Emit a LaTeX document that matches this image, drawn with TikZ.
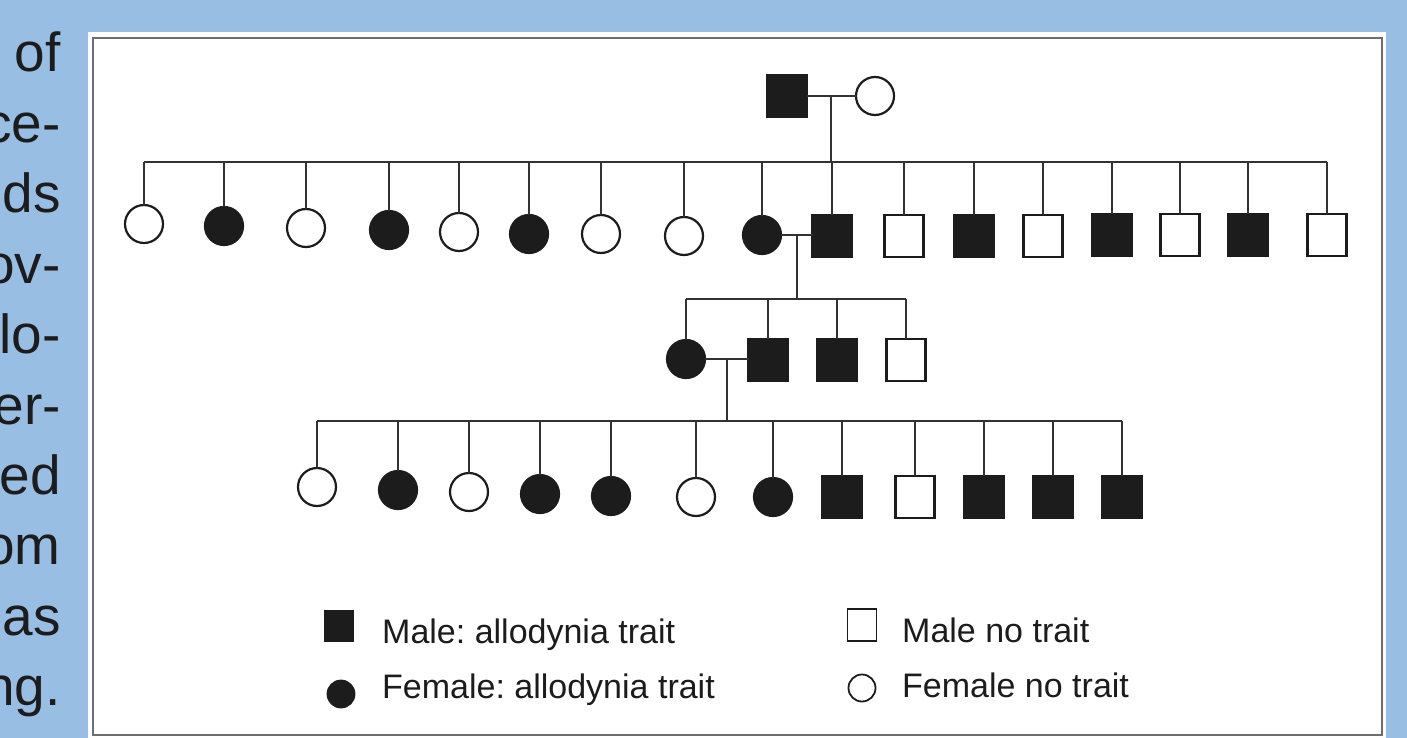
\documentclass[tikz,border=0pt]{standalone}
\usepackage{fontspec}
\setmainfont{Liberation Sans}
\usetikzlibrary{calc}
\definecolor{bgblue}{RGB}{153,190,228}
\definecolor{ink}{RGB}{28,28,28}
\definecolor{lineink}{RGB}{50,50,50}
\definecolor{frame}{RGB}{110,110,110}
\frenchspacing
\begin{document}
\begin{tikzpicture}[x=1pt,y=-1pt,
  sym/.style={draw=ink, line width=2.2pt, inner sep=0pt, outer sep=0pt},
  mA/.style={sym, rectangle, minimum width=39pt, minimum height=42pt, fill=ink},
  mU/.style={sym, rectangle, minimum width=39pt, minimum height=42pt, fill=white},
  fA/.style={sym, circle, minimum size=38pt, fill=ink},
  fU/.style={sym, circle, minimum size=38pt, fill=white},
  lnk/.style={draw=lineink, line width=2pt},
  lgsym/.style={draw=ink, line width=1.8pt, inner sep=0pt, outer sep=0pt},
  lgtext/.style={anchor=base west, text=ink, font=\fontsize{34}{40}\selectfont, inner sep=0pt},
  sidetext/.style={anchor=base east, text=ink, font=\fontsize{55}{70}\selectfont, inner sep=0pt}
]
\useasboundingbox (0,0) rectangle (1407,738);
\fill[bgblue] (0,0) rectangle (1407,738);
\fill[white] (88,32) rectangle (1386,738);
\draw[frame, line width=1.6pt] (93,38) rectangle (1382,735);

% side text fragments (cut at the left edge, as in the reference)
\foreach \t [count=\i from 0] in {of,ce-,ds,ov-,lo-,er-,ed,om,as,ng.}
  \node[sidetext] (side\i) at (61,{72+70.4*\i}) {\t};

% generation I
\node[mA] (I1) at (787,96) {};
\node[fU] (I2) at (875,96) {};
\draw[lnk] (I1) -- (I2);
\coordinate (I12) at ($(I1.east)!0.5!(I2.west)$);
\coordinate (sib2) at (0,162);
\draw[lnk] (I12) -- (I12 |- sib2);

% generation II
\foreach \n/\x/\y/\s in {1/144/224/fU, 2/224/226/fA, 3/306/228/fU, 4/389/230/fA,
  5/459/232/fU, 6/529/234/fA, 7/601/234/fU, 8/684/236/fU, 9/762/235/fA,
  10/832/236/mA, 11/904/236/mU, 12/974/236/mA, 13/1043/236/mU, 14/1112/235/mA,
  15/1180/235/mU, 16/1248/235/mA, 17/1327/235/mU}
  \node[\s] (g2-\n) at (\x,\y) {};
\draw[lnk] (g2-1.north |- sib2) -- (g2-17.north |- sib2);
\foreach \n in {1,...,17}
  \draw[lnk] (g2-\n.north) -- (g2-\n.north |- sib2);

% mating II-9 x II-10
\draw[lnk] (g2-9.east) -- (g2-9.east -| g2-10.west);
\coordinate (II910) at ($(g2-9.east)!0.5!(g2-9.east -| g2-10.west)$);
\coordinate (sib3) at (0,299);
\draw[lnk] (II910) -- (II910 |- sib3);

% generation III
\foreach \n/\x/\y/\s in {1/686/359/fA, 2/768/360/mA, 3/837/360/mA, 4/906/360/mU}
  \node[\s] (g3-\n) at (\x,\y) {};
\draw[lnk] (g3-1.north |- sib3) -- (g3-4.north |- sib3);
\foreach \n in {1,...,4}
  \draw[lnk] (g3-\n.north) -- (g3-\n.north |- sib3);

% mating III-1 x III-2
\draw[lnk] (g3-1.east) -- (g3-1.east -| g3-2.west);
\coordinate (III12) at ($(g3-1.east)!0.5!(g3-1.east -| g3-2.west)$);
\coordinate (sib4) at (0,421);
\draw[lnk] (III12) -- (III12 |- sib4);

% generation IV
\foreach \n/\x/\y/\s in {1/317/487/fU, 2/398/490/fA, 3/469/492/fU, 4/540/494/fA,
  5/611/496/fA, 6/696/497/fU, 7/773/497/fA, 8/842/497/mA, 9/915/497/mU,
  10/984/497/mA, 11/1053/497/mA, 12/1122/497/mA}
  \node[\s] (g4-\n) at (\x,\y) {};
\draw[lnk] (g4-1.north |- sib4) -- (g4-12.north |- sib4);
\foreach \n in {1,...,12}
  \draw[lnk] (g4-\n.north) -- (g4-\n.north |- sib4);

% legend
\node[lgsym, rectangle, fill=ink, minimum width=28pt, minimum height=31pt] (lgMA) at (339,626) {};
\node[lgtext] (lgMAt) at (382,643) {Male: allodynia trait};
\node[lgsym, circle, fill=ink, minimum size=27pt] (lgFA) at (341,694) {};
\node[lgtext] (lgFAt) at (382,698) {Female: allodynia trait};
\node[lgsym, rectangle, fill=white, minimum width=29pt, minimum height=32pt] (lgMU) at (862,625) {};
\node[lgtext] (lgMUt) at (902,642) {Male no trait};
\node[lgsym, circle, fill=white, minimum size=27pt] (lgFU) at (862,688) {};
\node[lgtext] (lgFUt) at (902,697) {Female no trait};
\end{tikzpicture}
\end{document}
